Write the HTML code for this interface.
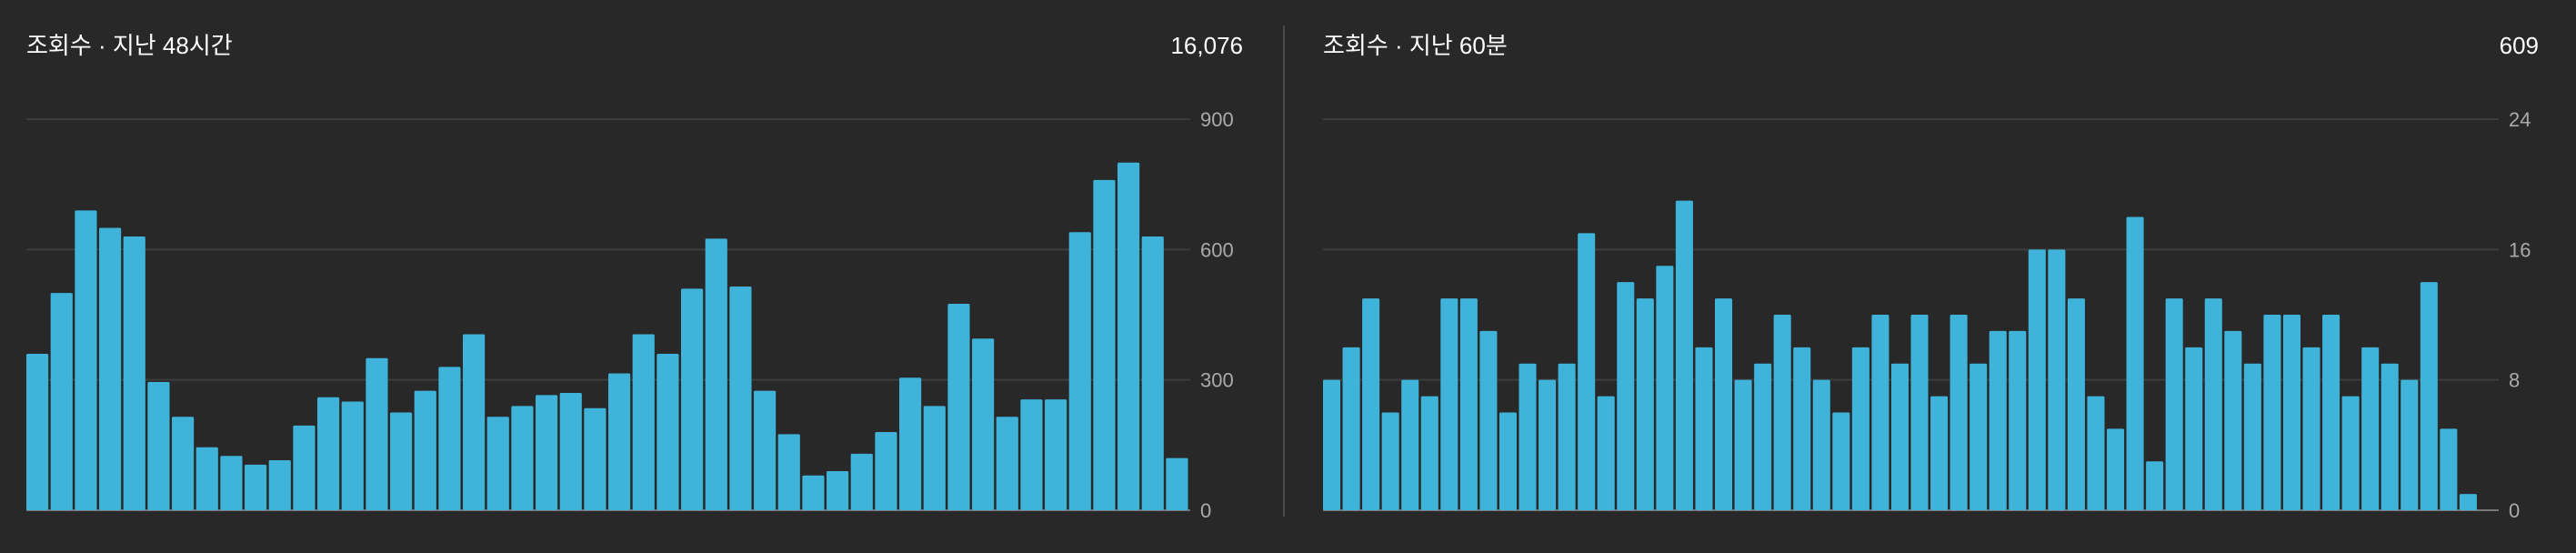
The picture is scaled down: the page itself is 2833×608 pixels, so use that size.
<!DOCTYPE html>
<html><head><meta charset="utf-8"><style>
html,body{margin:0;padding:0;background:#282828;width:2833px;height:608px;overflow:hidden;font-family:"Liberation Sans","Noto Sans CJK KR",sans-serif}
svg{position:absolute;left:0;top:0}
</style></head><body>
<svg width="2833" height="608" id="svg">
<line x1="1412" y1="28" x2="1412" y2="568" stroke="#4a4a4a" stroke-width="2"/>
<text x="29" y="59" fill="#fff" font-size="26">조회수 · 지난 48시간</text>
<text x="1367" y="59" fill="#fff" font-size="26" text-anchor="end">16,076</text>
<text x="1455" y="59" fill="#fff" font-size="26">조회수 · 지난 60분</text>
<text x="2792" y="59" fill="#fff" font-size="26" text-anchor="end">609</text>
<g id="left"></g><g id="right"></g>
</svg>
<script>
const hoursValues=[360,500,690,650,630,295,215,145,125,105,115,195,260,250,350,225,275,330,405,215,240,265,270,235,315,405,360,510,625,515,275,175,80,90,130,180,305,240,475,395,215,255,255,640,760,800,630,120];
const hoursTicks=[0,300,600,900];
const minutesValues=[8,10,13,6,8,7,13,13,11,6,9,8,9,17,7,14,13,15,19,10,13,8,9,12,10,8,6,10,12,9,12,7,12,9,11,11,16,16,13,7,5,18,3,13,10,13,11,9,12,12,10,12,7,10,9,8,14,5,1];
const minutesTicks=[0,8,16,24];
const NS="http://www.w3.org/2000/svg";
function draw(gid,vals,ticks,slots,x0,x1,prefix){
  const g=document.getElementById(gid);
  const yTop=131,yBase=561,max=ticks[ticks.length-1];
  const y=v=>yBase-(v/max)*(yBase-yTop);
  const sw=(x1-x0)/slots;
  ticks.forEach(t=>{
    const l=document.createElementNS(NS,'line');
    l.setAttribute('x1',x0);l.setAttribute('x2',x1);l.setAttribute('y1',y(t));l.setAttribute('y2',y(t));
    l.setAttribute('stroke',t===0?'#777':'#3c3c3c');l.setAttribute('stroke-width','2');
    
    
    g.appendChild(l);
    const tx=document.createElementNS(NS,'text');
    tx.setAttribute('x',x1+11);tx.setAttribute('y',y(t)+8);tx.setAttribute('fill','#aaa');tx.setAttribute('font-size','22');
    tx.textContent=t;
    
    
    g.appendChild(tx);
  });
  vals.forEach((v,i)=>{
    const r=document.createElementNS(NS,'rect');
    r.setAttribute('x',x0+i*sw);r.setAttribute('width',sw-2.5);
    r.setAttribute('y',y(v));r.setAttribute('height',yBase-y(v));
    r.setAttribute('fill','#3fb3d9');r.setAttribute('rx','1.5');
    
    
    g.appendChild(r);
  });
}
draw('left',hoursValues,hoursTicks,48,29,1309,'hours');
draw('right',minutesValues,minutesTicks,60,1455,2748,'minutes');
</script>
</body></html>
